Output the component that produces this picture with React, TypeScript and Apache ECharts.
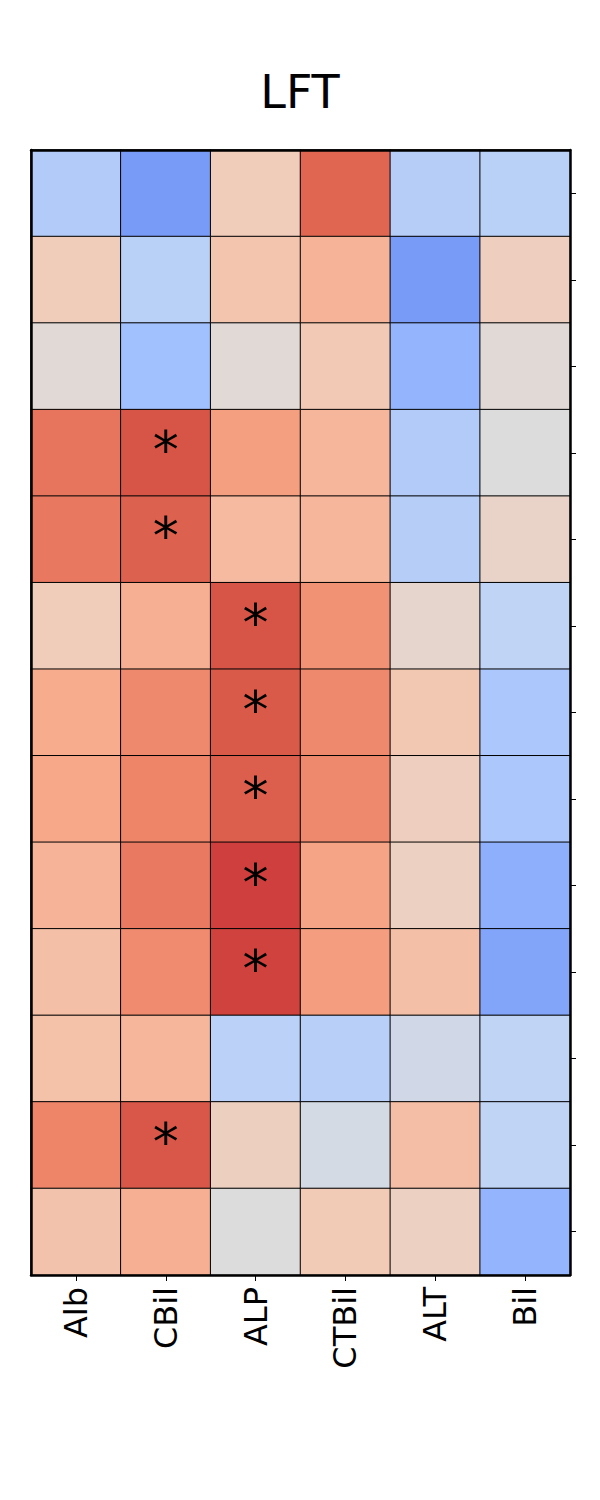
import React, { useEffect, useRef } from "react";
import * as echarts from "echarts";

const columns = ["Alb", "CBil", "ALP", "CTBil", "ALT", "Bil"];
const rowNames = ["R1", "R2", "R3", "R4", "R5", "R6", "R7", "R8", "R9", "R10", "R11", "R12", "R13"];

// values top row -> bottom row
const albValues = [-0.28, 0.18, 0.04, 0.66, 0.65, 0.18, 0.38, 0.4, 0.34, 0.27, 0.26, 0.6, 0.25];
const cbilValues = [-0.62, -0.24, -0.38, 0.79, 0.74, 0.36, 0.57, 0.6, 0.64, 0.56, 0.32, 0.78, 0.36];
const alpValues = [0.18, 0.24, 0.04, 0.45, 0.3, 0.79, 0.77, 0.75, 0.85, 0.84, -0.23, 0.15, 0.0];
const ctbilValues = [0.72, 0.34, 0.21, 0.32, 0.32, 0.52, 0.57, 0.57, 0.42, 0.46, -0.25, -0.06, 0.2];
const altValues = [-0.26, -0.62, -0.46, -0.28, -0.26, 0.08, 0.22, 0.16, 0.14, 0.27, -0.09, 0.28, 0.14];
const bilValues = [-0.24, 0.16, 0.04, 0.0, 0.11, -0.2, -0.32, -0.32, -0.5, -0.56, -0.2, -0.2, -0.46];

// significant cells: [column index, row index]
const significant = [
  [1, 3],
  [1, 4],
  [2, 5],
  [2, 6],
  [2, 7],
  [2, 8],
  [2, 9],
  [1, 11],
];

const coolwarm = [
  "#3b4cc0",
  "#5a78e4",
  "#7b9ff9",
  "#9ebeff",
  "#c0d4f5",
  "#dddcdc",
  "#f2cbb7",
  "#f7a889",
  "#ee8468",
  "#d65244",
  "#b40426",
];

const FONT = "DejaVu Sans";

export default function App() {
  const ref = useRef<HTMLDivElement>(null);

  useEffect(() => {
    if (!ref.current) return;
    const chart = echarts.init(ref.current, undefined, { renderer: "svg" });
    const cols = [albValues, cbilValues, alpValues, ctbilValues, altValues, bilValues];
    const data: any[] = [];
    cols.forEach((vals, c) => {
      vals.forEach((v, r) => {
        const sig = significant.some(([sc, sr]) => sc === c && sr === r) ? 1 : 0;
        data.push([c, r, v, sig]);
      });
    });

    const axisLineStyle = { color: "#000", width: 2.5 };

    chart.setOption({
      animation: false,
      title: {
        text: "LFT",
        left: "center",
        top: 69,
        padding: 0,
        textStyle: { fontFamily: FONT, fontSize: 46, fontWeight: "normal", color: "#000" },
      },
      grid: { left: 31, right: 30, top: 150, bottom: 225 },
      xAxis: [
        {
          type: "category",
          data: columns,
          position: "bottom",
          z: 10,
          axisLine: { show: true, lineStyle: axisLineStyle },
          axisTick: { show: true, alignWithLabel: true, length: 6, lineStyle: { color: "#000", width: 1 } },
          axisLabel: { rotate: 90, margin: 12, fontFamily: FONT, fontSize: 32, color: "#000" },
          splitLine: { show: false },
        },
        {
          type: "category",
          data: columns,
          position: "top",
          z: 10,
          axisLine: { show: true, lineStyle: axisLineStyle },
          axisTick: { show: false },
          axisLabel: { show: false },
        },
      ],
      yAxis: [
        {
          type: "category",
          data: rowNames,
          inverse: true,
          position: "right",
          z: 10,
          axisLine: { show: true, lineStyle: axisLineStyle },
          axisTick: { show: true, alignWithLabel: true, length: 6, lineStyle: { color: "#000", width: 1 } },
          axisLabel: { show: false },
          splitLine: { show: false },
        },
        {
          type: "category",
          data: rowNames,
          inverse: true,
          position: "left",
          z: 10,
          axisLine: { show: true, lineStyle: axisLineStyle },
          axisTick: { show: false },
          axisLabel: { show: false },
        },
      ],
      visualMap: {
        show: false,
        type: "continuous",
        min: -1,
        max: 1,
        dimension: 2,
        inRange: { color: coolwarm },
      },
      series: [
        {
          type: "heatmap",
          data,
          itemStyle: { borderColor: "#000", borderWidth: 1 },
          label: {
            show: true,
            formatter: (p: any) => (p.data[3] ? "*" : ""),
            fontFamily: FONT,
            fontSize: 52,
            offset: [0, -3],
            color: "#000",
          },
          emphasis: { disabled: true },
        },
      ],
    });
    return () => chart.dispose();
  }, []);

  return (
    <div
      ref={ref}
      style={{ position: "absolute", left: 0, top: 0, width: 600, height: 1500 }}
    />
  );
}
